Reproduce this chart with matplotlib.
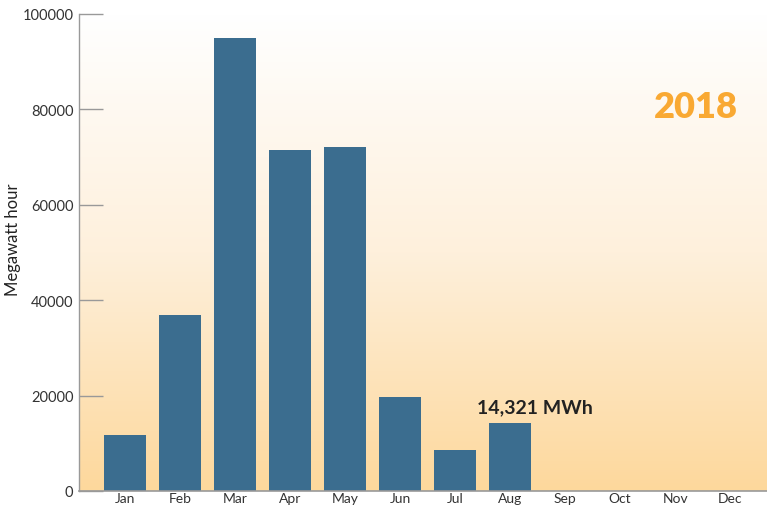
import matplotlib
matplotlib.use("Agg")
import matplotlib.pyplot as plt
import numpy as np
from matplotlib.colors import LinearSegmentedColormap

months = ["Jan", "Feb", "Mar", "Apr", "May", "Jun", "Jul", "Aug", "Sep", "Oct", "Nov", "Dec"]
energy_mwh = [11700, 36900, 95000, 71500, 72100, 19700, 8600, 14321]
y_ticks = [0, 20000, 40000, 60000, 80000, 100000]
annotation = "14,321 MWh"
year_label = "2018"

plt.rcParams['font.family'] = ['Lato', 'DejaVu Sans']

fig = plt.figure(figsize=(7.67, 5.06), dpi=100)
ax = fig.add_axes([79/767, 1 - 492/506, 1 - 79/767, (492 - 15)/506])

# gradient background
cmap = LinearSegmentedColormap.from_list("bg", ["#fdd89c", "#fef0dc", "#ffffff"])
grad = np.linspace(0, 1, 256).reshape(-1, 1)
ax.imshow(grad, aspect="auto", cmap=cmap, origin="lower",
          extent=[-0.84, 11.67, 0, 100000], zorder=0)

x = np.arange(len(months))
ax.bar(x[:len(energy_mwh)], energy_mwh, width=0.76, color="#3b6d8f", zorder=2)

ax.set_xlim(-0.84, 11.67)
ax.set_ylim(0, 100000)
ax.set_xticks(x)
ax.set_xticklabels(months, fontsize=10, color="#333333")
ax.set_yticks(y_ticks)
ax.set_yticklabels([str(v) for v in y_ticks], fontsize=10.5, color="#333333")
ax.tick_params(axis="x", length=0, pad=1)
ax.tick_params(axis="y", direction="in", length=17, width=1, color="#999999", pad=4)

fig.text(13/767, 1 - 240/506, "Megawatt hour", rotation=90, ha="center", va="center",
         fontsize=12, color="#222222")

for s in ["top", "right"]:
    ax.spines[s].set_visible(False)
ax.spines["left"].set_color("#999999")
ax.spines["bottom"].set_color("#999999")
ax.spines["left"].set_linewidth(1)
ax.spines["bottom"].set_linewidth(1.2)

ax.text(7 - 0.6, energy_mwh[7] + 2200, annotation, ha="left", va="baseline",
        fontsize=14, fontweight="bold", color="#222222", zorder=3)
ax.text(0.958, 0.807, year_label, transform=ax.transAxes, ha="right", va="center",
        fontsize=26, fontweight="heavy", color="#f9a933", zorder=3)

fig.savefig("out.png", dpi=100)
